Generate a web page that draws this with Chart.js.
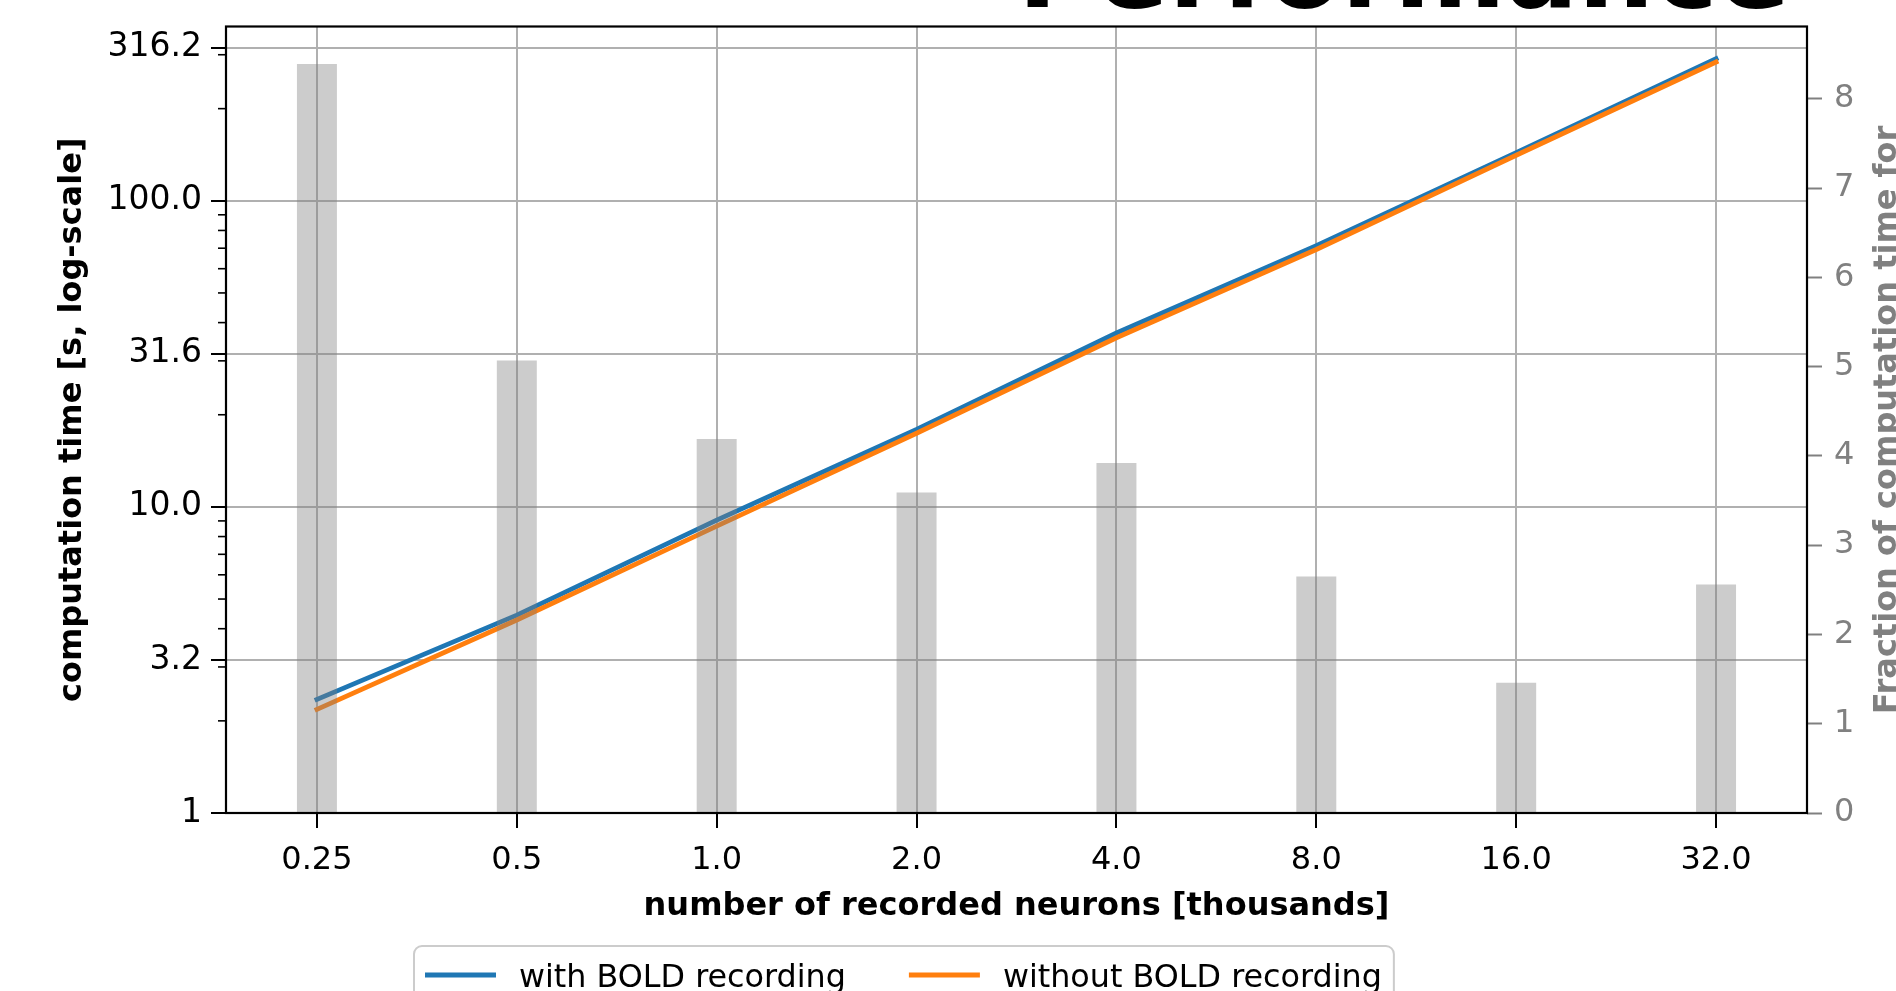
<!DOCTYPE html>
<html>
<head>
<meta charset="utf-8">
<script src="https://cdn.jsdelivr.net/npm/chart.js@4.4.1/dist/chart.umd.min.js"></script>
<style>
  html, body { margin: 0; padding: 0; background: #fff; }
  #wrap { width: 1896px; height: 991px; position: relative; }
</style>
</head>
<body>
<div id="wrap"><canvas id="perfChart"></canvas></div>
<script>
// values
const neuronLabels = ['0.25', '0.5', '1.0', '2.0', '4.0', '8.0', '16.0', '32.0'];
const timeWithBold = [2.35, 4.43, 9.05, 17.9, 37.0, 71.3, 143.5, 291];
const timeWithoutBold = [2.18, 4.27, 8.65, 17.4, 35.7, 69.3, 140.9, 284];
const boldFraction = [8.39, 5.07, 4.19, 3.59, 3.92, 2.65, 1.46, 2.56];

const logTickValues = [1, 3.1623, 10, 31.623, 100, 316.23];
const logTickLabels = ['1', '3.2', '10.0', '31.6', '100.0', '316.2'];
const minorTickValues = [2, 3, 4, 5, 6, 7, 8, 9, 20, 30, 40, 50, 60, 70, 80, 90, 200, 300];
const fractionTicks = [0, 1, 2, 3, 4, 5, 6, 7, 8];

const FONT = '"DejaVu Sans", sans-serif';
Chart.defaults.font.family = FONT;
Chart.defaults.font.size = 32;
Chart.defaults.color = '#000';

const toPoints = arr => arr.map((v, i) => ({ x: i, y: v }));

// fixed axis boxes so the plot area sits where the reference has it
const fixBox = (w, h) => s => {
    if (w) s.width = w;
    if (h) s.height = h;
    s.paddingTop = 0; s.paddingBottom = 0; s.paddingLeft = 0; s.paddingRight = 0;
};

// frame, minor ticks, titles and legend drawn on top
const decorations = {
    id: 'decorations',
    afterDraw(chart) {
        const { ctx, chartArea: a, scales } = chart;
        ctx.save();

        // minor log ticks
        ctx.strokeStyle = '#000';
        ctx.lineWidth = 1.6;
        minorTickValues.forEach(v => {
            const y = scales.y.getPixelForValue(v);
            ctx.beginPath();
            ctx.moveTo(a.left - 8, y);
            ctx.lineTo(a.left, y);
            ctx.stroke();
        });

        // axes frame
        ctx.lineWidth = 2.2;
        ctx.strokeRect(a.left, a.top, a.right - a.left, a.bottom - a.top);

        // cut-off title
        ctx.fillStyle = '#000';
        ctx.font = 'bold 107px ' + FONT;
        ctx.textAlign = 'center';
        ctx.textBaseline = 'alphabetic';
        ctx.fillText('Performance', 1404, 7);

        // axis labels
        ctx.font = 'bold 32px ' + FONT;
        ctx.fillText('number of recorded neurons [thousands]', (a.left + a.right) / 2, 915);

        ctx.save();
        ctx.translate(81, (a.top + a.bottom) / 2);
        ctx.rotate(-Math.PI / 2);
        ctx.fillText('computation time [s, log-scale]', 0, 0);
        ctx.restore();

        ctx.save();
        ctx.fillStyle = '#808080';
        ctx.translate(1896, 420);
        ctx.rotate(-Math.PI / 2);
        ctx.fillText('Fraction of computation time for', 0, 0);
        ctx.restore();

        // legend
        const items = chart.data.datasets.filter(d => d.type === 'line');
        ctx.font = '31.8px ' + FONT;
        let x = 425;
        const lineY = 975, textY = 987;
        const layout = items.map(d => {
            const item = { d, x0: x, tx: x + 94, w: ctx.measureText(d.label).width };
            x = item.tx + item.w + 63;
            return item;
        });
        const last = layout[layout.length - 1];
        const boxRight = last.tx + last.w + 12;
        ctx.beginPath();
        ctx.roundRect(414, 946, boxRight - 414, 120, 8);
        ctx.fillStyle = 'rgba(255,255,255,0.8)';
        ctx.fill();
        ctx.strokeStyle = '#cccccc';
        ctx.lineWidth = 2;
        ctx.stroke();
        layout.forEach(it => {
            ctx.strokeStyle = it.d.borderColor;
            ctx.lineWidth = it.d.borderWidth;
            ctx.beginPath();
            ctx.moveTo(it.x0, lineY);
            ctx.lineTo(it.x0 + 71, lineY);
            ctx.stroke();
            ctx.fillStyle = '#000';
            ctx.textAlign = 'left';
            ctx.fillText(it.d.label, it.tx, textY);
        });

        ctx.restore();
    }
};

new Chart(document.getElementById('perfChart'), {
    type: 'line',
    data: {
        datasets: [
            {
                type: 'line',
                label: 'with BOLD recording',
                data: toPoints(timeWithBold),
                borderColor: '#1f77b4',
                borderWidth: 4.8,
                borderCapStyle: 'square',
                pointRadius: 0,
                fill: false,
                tension: 0,
                yAxisID: 'y',
                order: 2
            },
            {
                type: 'line',
                label: 'without BOLD recording',
                data: toPoints(timeWithoutBold),
                borderColor: '#ff7f0e',
                borderWidth: 4.8,
                borderCapStyle: 'square',
                pointRadius: 0,
                fill: false,
                tension: 0,
                yAxisID: 'y',
                order: 1
            },
            {
                type: 'bar',
                label: 'BOLD fraction',
                data: toPoints(boldFraction),
                backgroundColor: 'rgba(128,128,128,0.4)',
                barPercentage: 0.2,
                categoryPercentage: 1,
                yAxisID: 'y1',
                order: 0
            }
        ]
    },
    options: {
        responsive: true,
        maintainAspectRatio: false,
        animation: false,
        devicePixelRatio: 1,
        layout: { padding: { top: 26.5, left: 0, right: 0, bottom: 0 } },
        plugins: {
            legend: { display: false },
            tooltip: { enabled: false }
        },
        scales: {
            x: {
                type: 'linear',
                min: -0.455,
                max: 7.455,
                offset: false,
                afterBuildTicks: s => { s.ticks = neuronLabels.map((_, i) => ({ value: i })); },
                ticks: { callback: v => neuronLabels[v], padding: 13, maxRotation: 0, autoSkip: false },
                grid: { offset: false, color: '#b0b0b0', lineWidth: 2, tickColor: '#000', tickLength: 15, tickWidth: 2 },
                border: { display: false },
                afterFit: fixBox(0, 178)
            },
            y: {
                type: 'logarithmic',
                position: 'left',
                min: 1,
                max: 371,
                afterBuildTicks: s => { s.ticks = logTickValues.map(v => ({ value: v })); },
                ticks: { callback: (v, i) => logTickLabels[i], padding: 9, autoSkip: false, font: { size: 33 } },
                grid: { color: '#b0b0b0', lineWidth: 2, tickColor: '#000', tickLength: 15, tickWidth: 2 },
                border: { display: false },
                afterFit: fixBox(226, 0)
            },
            y1: {
                type: 'linear',
                position: 'right',
                min: 0,
                max: 8.81,
                afterBuildTicks: s => { s.ticks = fractionTicks.map(v => ({ value: v })); },
                ticks: { color: '#808080', padding: 12, callback: v => String(v), autoSkip: false },
                grid: { drawOnChartArea: false, tickColor: '#808080', tickLength: 15, tickWidth: 2 },
                border: { display: false },
                afterFit: fixBox(89, 0)
            }
        }
    },
    plugins: [decorations]
});
</script>
</body>
</html>
